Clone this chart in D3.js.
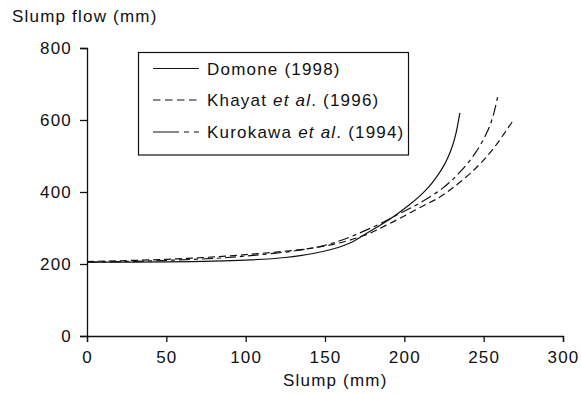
<!DOCTYPE html>
<html>
<head>
<meta charset="utf-8">
<script src="https://cdn.jsdelivr.net/npm/d3@7"></script>
<style>
  html, body { margin: 0; padding: 0; background: #fff; }
  svg text { font-family: "Liberation Sans", Arial, sans-serif; fill: #111; }
</style>
</head>
<body>
<svg id="chart" width="581" height="394"></svg>
<script>
// ---- data ----
const domoneSlump = [0, 50, 100, 125, 150, 165, 175, 190, 203, 210, 215, 220, 225, 229, 232, 235];
const domoneFlow  = [205, 206, 211, 218, 236, 257, 282, 322, 364, 390, 412, 440, 474, 512, 553, 620];

const khayatSlump = [0, 50, 100, 150, 175, 191, 212, 222, 231, 245, 256, 268];
const khayatFlow  = [207, 213, 226, 250, 280, 313, 362, 385, 413, 466, 520, 595];

const kurokawaSlump = [0, 50, 100, 150, 180, 197, 210, 224, 235, 245, 252, 256, 259];
const kurokawaFlow  = [205, 210, 222, 252, 302, 340, 370, 410, 455, 510, 565, 612, 669];

const xTicks = [0, 50, 100, 150, 200, 250, 300];
const yTicks = [0, 200, 400, 600, 800];

const seriesNames = ["Domone", "Khayat", "Kurokawa"];
const seriesYears = ["(1998)", "(1996)", "(1994)"];
const seriesEtAl  = [false, true, true];

// ---- layout ----
const svg = d3.select("#chart");
const x = d3.scaleLinear().domain([0, 300]).range([87, 563]);
const y = d3.scaleLinear().domain([0, 800]).range([336, 48]);
const fontSize = "17px";
const ls = "1.2px";
const ink = "#111";

// axes
const gx = svg.append("g").attr("transform", `translate(0,${y(0)})`)
  .call(d3.axisBottom(x).tickValues(xTicks).tickSize(6).tickPadding(9).tickFormat(d3.format("d")));
const gy = svg.append("g").attr("transform", `translate(${x(0)},0)`)
  .call(d3.axisLeft(y).tickValues(yTicks).tickSize(7).tickPadding(8).tickFormat(d3.format("d")));
[gx, gy].forEach(g => {
  g.select(".domain").attr("stroke", ink).attr("stroke-width", 1.3);
  g.selectAll(".tick line").attr("stroke", ink).attr("stroke-width", 1.3);
  g.selectAll(".tick text").attr("font-size", fontSize).attr("letter-spacing", ls)
    .attr("font-family", "Liberation Sans, Arial, sans-serif").attr("fill", ink);
});

// axis titles
svg.append("text").attr("x", 12).attr("y", 22).attr("font-size", fontSize)
  .attr("letter-spacing", ls).text("Slump flow (mm)");
svg.append("text").attr("x", 283).attr("y", 386).attr("font-size", fontSize)
  .attr("letter-spacing", ls).text("Slump (mm)");

// lines
const line = d3.line().x(d => x(d[0])).y(d => y(d[1])).curve(d3.curveCatmullRom.alpha(0.5));
const series = [
  { pts: d3.zip(domoneSlump, domoneFlow), dash: null },
  { pts: d3.zip(khayatSlump, khayatFlow), dash: "7,4" },
  { pts: d3.zip(kurokawaSlump, kurokawaFlow), dash: "11,4,4,4" }
];
series.forEach(s => {
  svg.append("path").datum(s.pts).attr("d", line)
    .attr("fill", "none").attr("stroke", ink).attr("stroke-width", 1.2)
    .attr("stroke-dasharray", s.dash);
});

// legend
const lg = svg.append("g");
lg.append("rect").attr("x", 138.5).attr("y", 52.5).attr("width", 270).attr("height", 102.5)
  .attr("fill", "#fff").attr("stroke", ink).attr("stroke-width", 1.2);
const legendDash = [null, "7.5,4.5", "26,5,5,5,5,5"];
const rowY = [68.5, 100, 132];
seriesNames.forEach((name, i) => {
  lg.append("line").attr("x1", 153).attr("x2", 199).attr("y1", rowY[i]).attr("y2", rowY[i])
    .attr("stroke", ink).attr("stroke-width", 1.2).attr("stroke-dasharray", legendDash[i]);
  const t = lg.append("text").attr("x", 207).attr("y", rowY[i] + 6)
    .attr("font-size", fontSize).attr("letter-spacing", ls);
  t.append("tspan").text(name + " ");
  if (seriesEtAl[i]) {
    t.append("tspan").attr("font-style", "italic").text("et al");
    t.append("tspan").text(". ");
  }
  t.append("tspan").text(seriesYears[i]);
});
</script>
</body>
</html>
